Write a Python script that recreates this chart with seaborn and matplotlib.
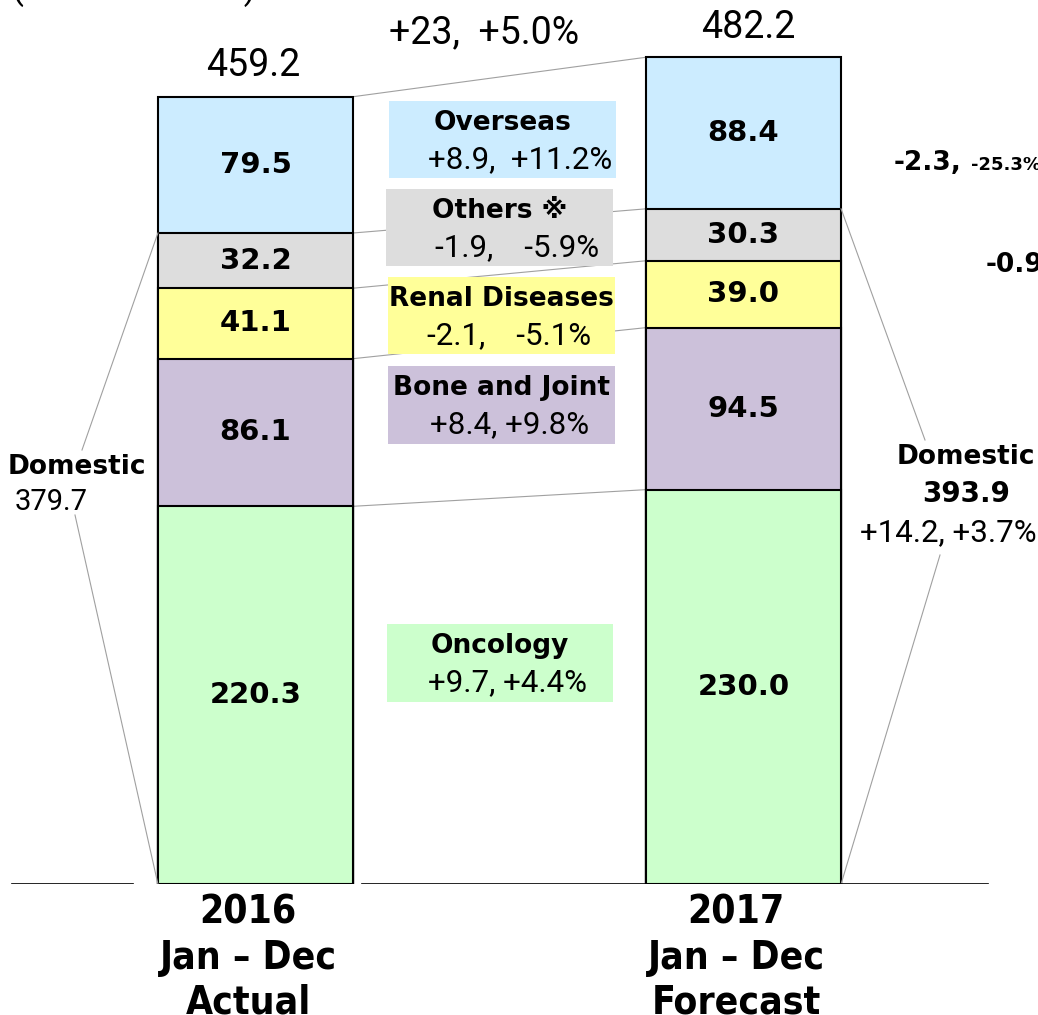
import numpy as np
import pandas as pd
import matplotlib
matplotlib.use("Agg")
import matplotlib.pyplot as plt
from matplotlib.patches import Rectangle
import seaborn as sns

# --- data -----------------------------------------------------------------
periods = ["2016", "2017"]
period_labels = ["2016\nJan – Dec\nActual", "2017\nJan – Dec\nForecast"]
segments = ["Oncology", "Bone and Joint", "Renal Diseases", "Others ※", "Overseas"]
sales_2016 = [220.3, 86.1, 41.1, 32.2, 79.5]
sales_2017 = [230.0, 94.5, 39.0, 30.3, 88.4]
domestic_totals = [379.7, 393.9]
changes = ["+9.7, +4.4%", "+8.4, +9.8%", "-2.1,    -5.1%", "-1.9,    -5.9%", "+8.9,  +11.2%"]
colors = ["#CCFFCC", "#CCC1DA", "#FFFF99", "#DDDDDD", "#CCECFF"]

df = pd.DataFrame({"segment": segments, "2016": sales_2016, "2017": sales_2017})
cum = df[["2016", "2017"]].cumsum()
total16, total17 = cum["2016"].iloc[-1], cum["2017"].iloc[-1]
dom16, dom17 = cum["2016"].iloc[3], cum["2017"].iloc[3]

W, H = 1038, 1015
fig = plt.figure(figsize=(W / 100, H / 100), dpi=100)
base_px = 884
ax = fig.add_axes([0, (H - base_px) / H, 1, base_px / H])

YMAX = 515.6
XLIM = (-0.5236, 1.6035)

def px(x, y):
    # pixel position on the picture -> data coords of the axes
    return XLIM[0] + x / W * (XLIM[1] - XLIM[0]), (base_px - y) / base_px * YMAX

# stacked bars: draw cumulative totals from the top down so lower ones overlay
for i in range(len(segments) - 1, -1, -1):
    d = pd.DataFrame({"period": periods, "value": cum.iloc[i].values})
    sns.barplot(data=d, x="period", y="value", color=colors[i], saturation=1,
                width=0.4, edgecolor="black", linewidth=1.5, ax=ax, zorder=2)

ax.set_xlim(*XLIM)
ax.set_ylim(0, YMAX)
ax.axis("off")

# segment values inside bars
for i, seg in enumerate(segments):
    for j, col in enumerate(["2016", "2017"]):
        v = df[col].iloc[i]
        ax.text(j, cum[col].iloc[i] - v / 2, f"{v:.1f}", ha="center", va="center",
                fontsize=21, fontweight="bold", family="DejaVu Sans", zorder=6)

# totals
ax.text(-0.005, total16 + 18, f"{total16:.1f}", ha="center", va="center", fontsize=27, family="Roboto")
ax.text(1.01, total17 + 17.5, f"{total17:.1f}", ha="center", va="center", fontsize=27, family="Roboto")
ax.text(*px(484, 33), "+23,  +5.0%", ha="center", va="center", fontsize=27, family="Roboto")
ax.text(*px(12, -1), "(Billions of Yen)", ha="left", va="baseline", fontsize=25, family="Roboto")

# connector lines between bars
for i in range(len(segments)):
    ax.plot([0.2, 0.8], [cum["2016"].iloc[i], cum["2017"].iloc[i]], color="#A0A0A0", lw=0.8, zorder=1)

# domestic brackets
ax.plot([-0.2, px(82, 450)[0]], [dom16, px(82, 450)[1]], color="#A0A0A0", lw=0.8)
ax.plot([px(75, 515)[0], -0.2], [px(75, 515)[1], 0], color="#A0A0A0", lw=0.8)
ax.plot([1.2, px(925, 440)[0]], [dom17, px(925, 440)[1]], color="#A0A0A0", lw=0.8)
ax.plot([px(940, 555)[0], 1.2], [px(940, 555)[1], 0], color="#A0A0A0", lw=0.8)

# baseline
for a, b in [(12, 133), (362, 988)]:
    ax.plot([px(a, 0)[0], px(b, 0)[0]], [0, 0], color="black", lw=1.2, zorder=3)

# segment legend boxes
boxes = [(387, 624, 613, 702), (388, 366, 615, 444), (388, 277, 615, 354),
         (386, 189, 613, 266), (389, 101, 616, 178)]
sub_shift = [8, 8, 8, 18, 18]
for i, (x0, y0, x1, y1) in enumerate(boxes):
    (dx0, dy1), (dx1, dy0) = px(x0, y0), px(x1, y1)
    ax.add_patch(Rectangle((dx0, dy0), dx1 - dx0, dy1 - dy0, facecolor=colors[i],
                           edgecolor="none", zorder=5))
    cx = (x0 + x1) / 2
    ax.text(*px(cx, y0 + 22), segments[i], ha="center", va="center", fontsize=19,
            fontweight="bold", family=["DejaVu Sans", "Noto Sans CJK JP"], zorder=6)
    ax.text(*px(cx + sub_shift[i], y0 + 59), changes[i], ha="center", va="center",
            fontsize=22.5, family="Roboto", zorder=6)

# domestic labels
ax.text(*px(77, 467), "Domestic", ha="center", va="center", fontsize=19,
        fontweight="bold", family="DejaVu Sans")
ax.text(*px(51, 502), f"{domestic_totals[0]:.1f}", ha="center", va="center", fontsize=21, family="Roboto")
ax.text(*px(966, 457), "Domestic", ha="center", va="center", fontsize=19,
        fontweight="bold", family="DejaVu Sans")
ax.text(*px(966, 494), f"{domestic_totals[1]:.1f}", ha="center", va="center", fontsize=20,
        fontweight="bold", family="DejaVu Sans")
ax.text(*px(948, 533), "+14.2, +3.7%", ha="center", va="center", fontsize=22.5, family="Roboto")

# clipped notes on the right edge
ax.text(*px(894, 163), "-2.3,", ha="left", va="center", fontsize=19,
        fontweight="bold", family="DejaVu Sans")
ax.text(*px(971, 165), "-25.3%", ha="left", va="center", fontsize=13,
        fontweight="bold", family="DejaVu Sans")
ax.text(*px(986, 265), "-0.9", ha="left", va="center", fontsize=19,
        fontweight="bold", family="DejaVu Sans")

# period labels under the bars
for j, lab in enumerate(period_labels):
    ax.text(j - 0.015, px(0, 894)[1], lab, ha="center", va="top", fontsize=28,
            fontweight="bold", family="DejaVu Sans", fontstretch="condensed",
            linespacing=1.22)

fig.savefig("out.png", dpi=100)
